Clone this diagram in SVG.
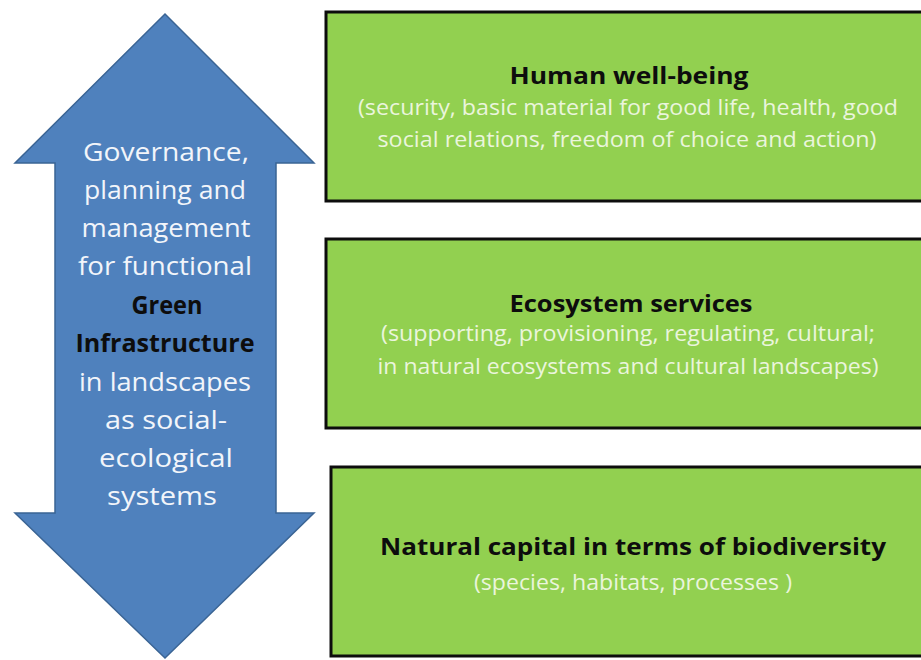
<svg xmlns="http://www.w3.org/2000/svg" width="921" height="660" viewBox="0 0 921 660">
  <style>
    .box { fill: #92d050; stroke: #0d0d0d; stroke-width: 3; }
    .arrow { fill: #4f81bd; stroke: #3a6494; stroke-width: 1.5; stroke-linejoin: miter; }
    text { font-family: "Open Sans", "Noto Sans", "Liberation Sans", sans-serif; text-anchor: middle; }
    .title { font-size: 24px; font-weight: bold; fill: #0d0d0d; }
    .sub { font-size: 22.5px; fill: #eaf5dc; }
    .gov { font-size: 25px; fill: #f2f5fa; }
    .gov-b { font-size: 25px; font-weight: bold; fill: #0d0d0d; }
  </style>

  <rect width="921" height="660" fill="#ffffff"/>

  <!-- double-headed vertical arrow: governance of green infrastructure -->
  <g id="governance-arrow">
    <polygon class="arrow" points="165,14 314,163 276,163 276,513 314,513 165,658 15,513 55,513 55,163 15,163"/>
    <text class="gov" x="166" y="161" textLength="166" lengthAdjust="spacingAndGlyphs">Governance,</text>
    <text class="gov" x="165" y="199" textLength="162" lengthAdjust="spacingAndGlyphs">planning and</text>
    <text class="gov" x="166" y="237" textLength="169" lengthAdjust="spacingAndGlyphs">management</text>
    <text class="gov" x="165" y="275" textLength="174" lengthAdjust="spacingAndGlyphs">for functional</text>
    <text class="gov-b" x="167" y="314" textLength="71" lengthAdjust="spacingAndGlyphs">Green</text>
    <text class="gov-b" x="165" y="352" textLength="179" lengthAdjust="spacingAndGlyphs">Infrastructure</text>
    <text class="gov" x="165" y="391" textLength="172" lengthAdjust="spacingAndGlyphs">in landscapes</text>
    <text class="gov" x="166" y="429" textLength="122" lengthAdjust="spacingAndGlyphs">as social-</text>
    <text class="gov" x="166" y="467" textLength="134" lengthAdjust="spacingAndGlyphs">ecological</text>
    <text class="gov" x="162" y="505" textLength="110" lengthAdjust="spacingAndGlyphs">systems</text>
  </g>

  <!-- top tier -->
  <g id="human-well-being">
    <rect class="box" x="326" y="12" width="620" height="189"/>
    <text class="title" x="629" y="84" textLength="239" lengthAdjust="spacingAndGlyphs">Human well-being</text>
    <text class="sub" x="628" y="115" textLength="540" lengthAdjust="spacingAndGlyphs">(security, basic material for good life, health, good</text>
    <text class="sub" x="627" y="147" textLength="499" lengthAdjust="spacingAndGlyphs">social relations, freedom of choice and action)</text>
  </g>

  <!-- middle tier -->
  <g id="ecosystem-services">
    <rect class="box" x="326" y="239" width="620" height="189"/>
    <text class="title" x="631" y="312" textLength="243" lengthAdjust="spacingAndGlyphs">Ecosystem services</text>
    <text class="sub" x="628" y="341" textLength="494" lengthAdjust="spacingAndGlyphs">(supporting, provisioning, regulating, cultural;</text>
    <text class="sub" x="628" y="374" textLength="501" lengthAdjust="spacingAndGlyphs">in natural ecosystems and cultural landscapes)</text>
  </g>

  <!-- bottom tier -->
  <g id="natural-capital">
    <rect class="box" x="331" y="467" width="620" height="189"/>
    <text class="title" x="633" y="555" textLength="506" lengthAdjust="spacingAndGlyphs">Natural capital in terms of biodiversity</text>
    <text class="sub" x="633" y="590" textLength="318" lengthAdjust="spacingAndGlyphs">(species, habitats, processes )</text>
  </g>

  <g id="connectors"/>
</svg>
